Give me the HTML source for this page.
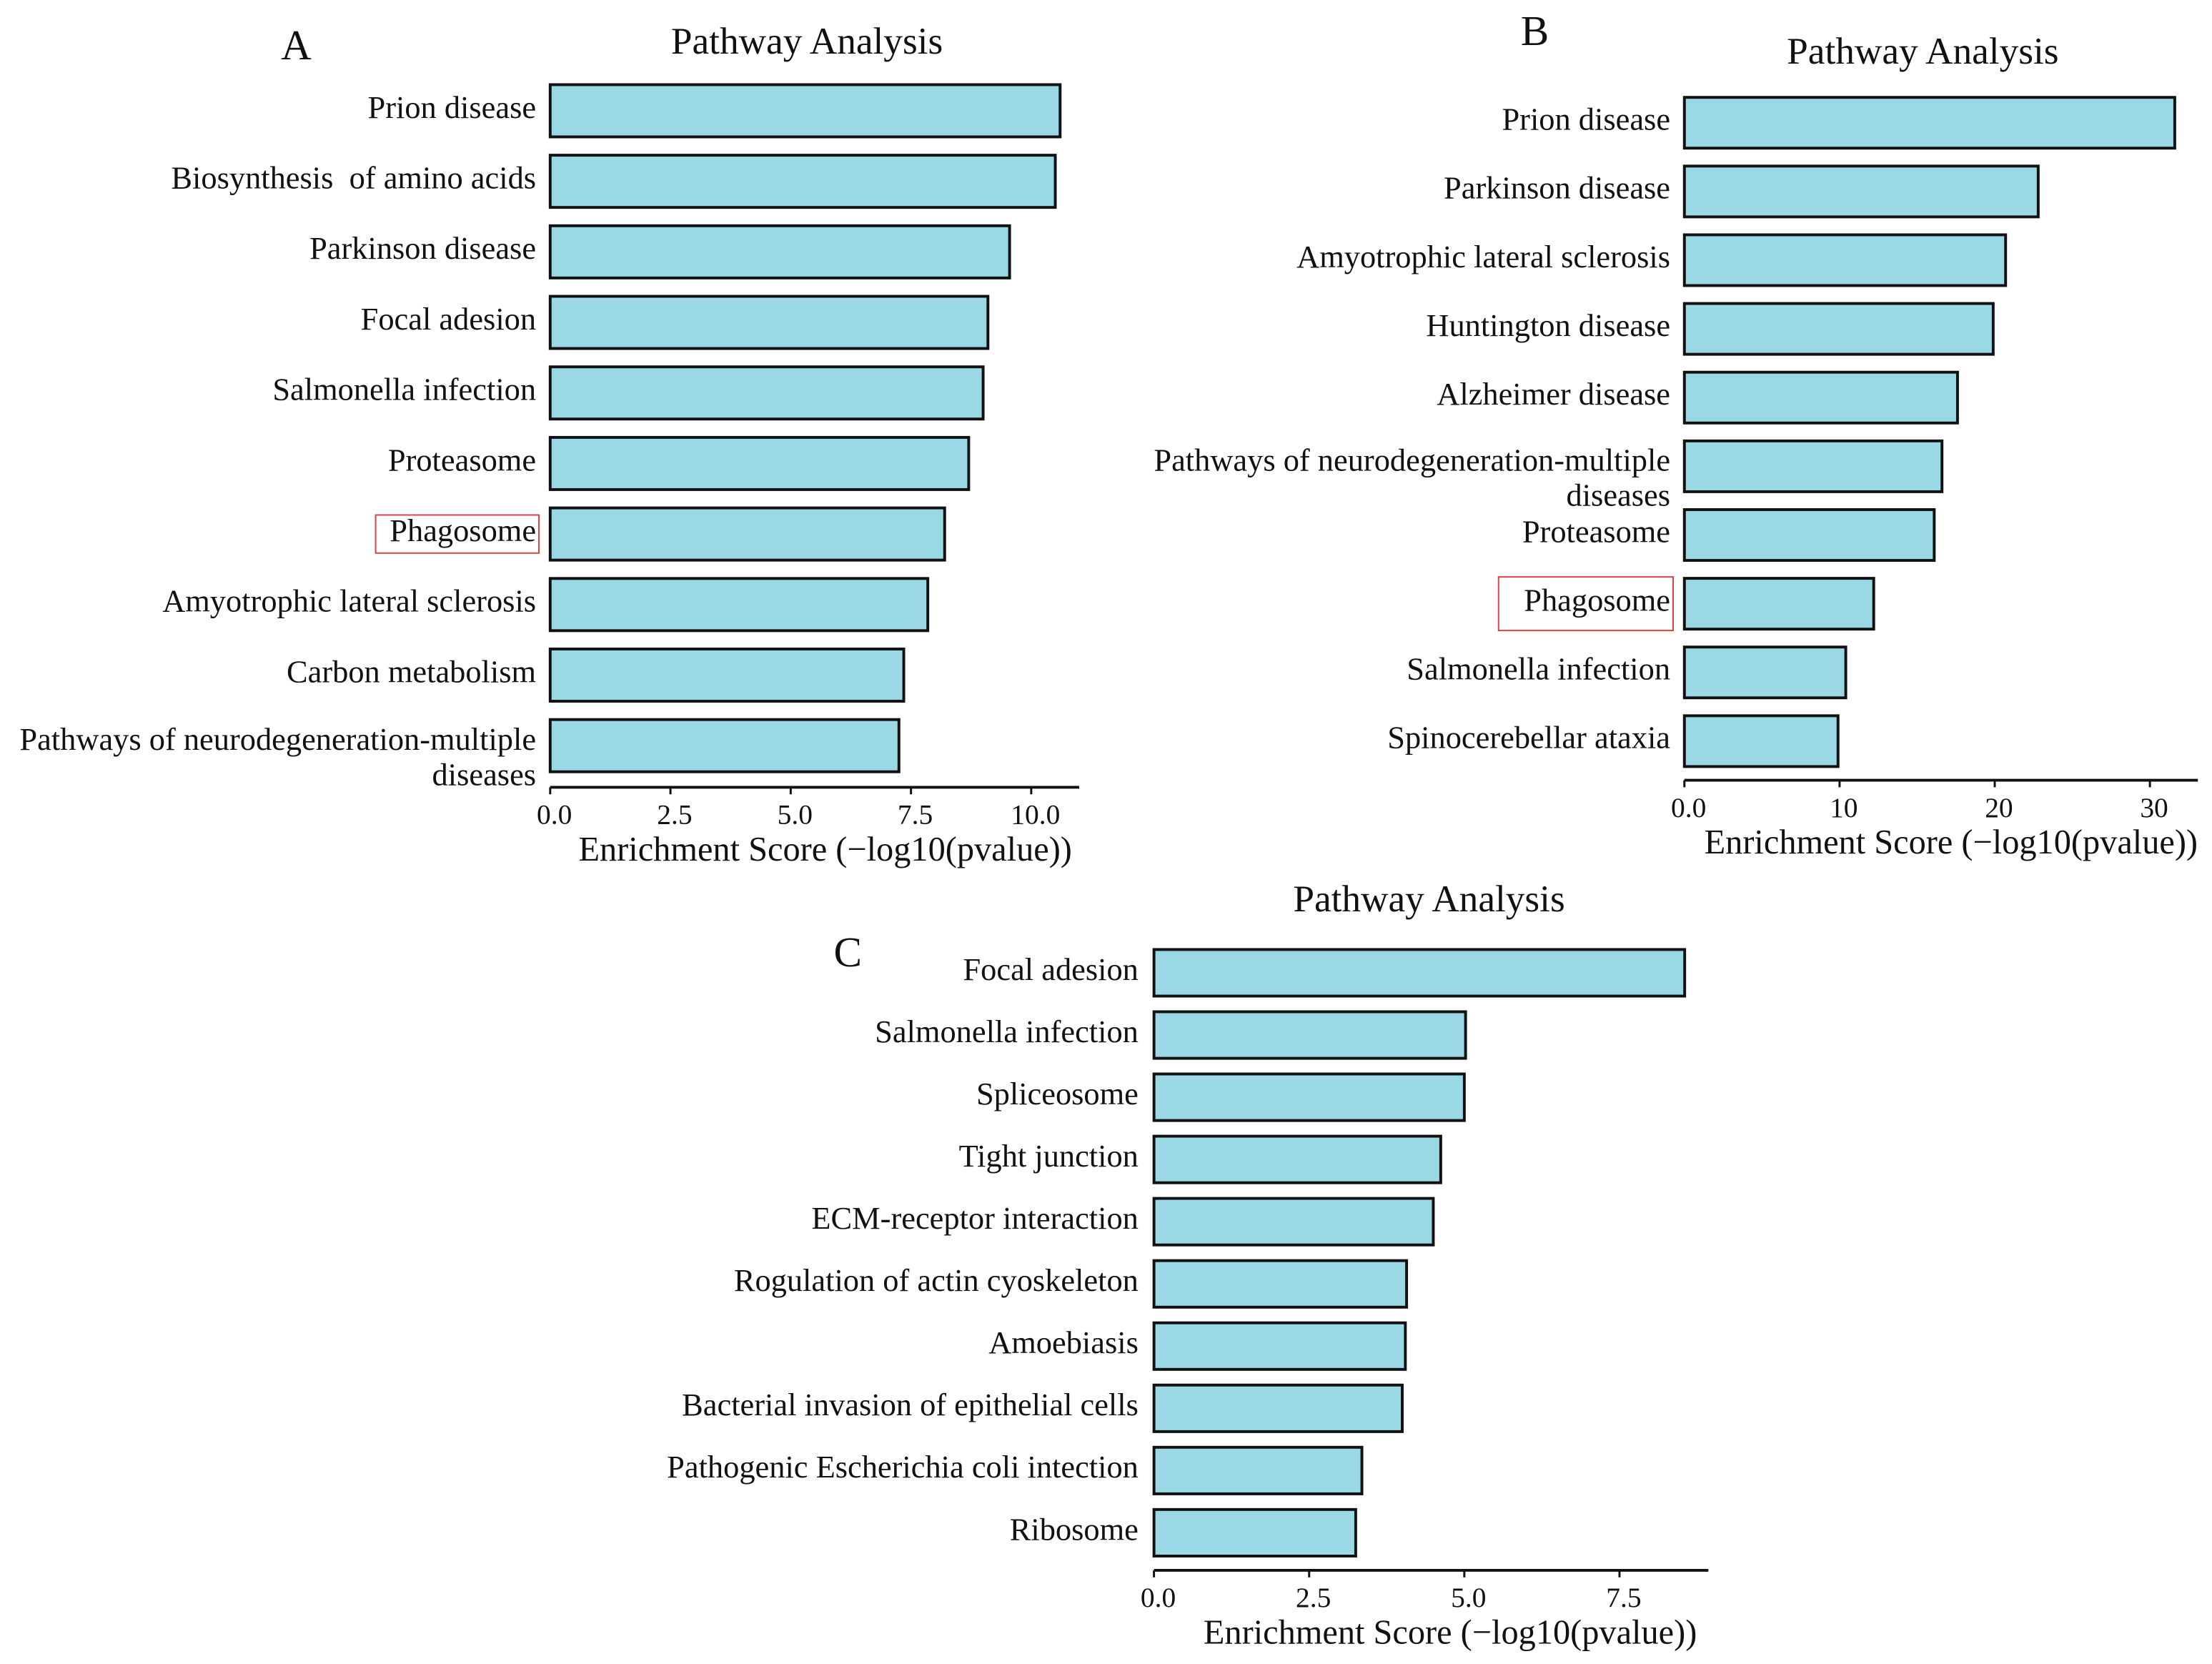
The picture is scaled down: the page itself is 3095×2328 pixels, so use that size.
<!DOCTYPE html>
<html><head><meta charset="utf-8"><style>
html,body{margin:0;padding:0;background:#fff;}
svg{display:block;}
text{font-family:"Liberation Serif",serif;fill:#111;white-space:pre;}
</style></head><body>
<svg id="fig" width="3095" height="2328" viewBox="0 0 1568 1179.4">
<rect width="1568" height="1180" fill="#fff"/>
</svg>
<script>
// Panel A data
const catsA=["Prion disease","Biosynthesis  of amino acids","Parkinson disease","Focal adesion","Salmonella infection","Proteasome","Phagosome","Amyotrophic lateral sclerosis","Carbon metabolism","Pathways of neurodegeneration-multiple|diseases"];
const valsA=[10.6,10.5,9.55,9.1,9.0,8.7,8.2,7.85,7.35,7.25];
const ticksA=[0,2.5,5,7.5,10];
const tickLabelsA=["0.0","2.5","5.0","7.5","10.0"];
// Panel B data
const catsB=["Prion disease","Parkinson disease","Amyotrophic lateral sclerosis","Huntington disease","Alzheimer disease","Pathways of neurodegeneration-multiple|diseases","Proteasome","Phagosome","Salmonella infection","Spinocerebellar ataxia"];
const valsB=[31.6,22.8,20.7,19.9,17.6,16.6,16.1,12.2,10.4,9.9];
const ticksB=[0,10,20,30];
const tickLabelsB=["0.0","10","20","30"];
// Panel C data
const catsC=["Focal adesion","Salmonella infection","Spliceosome","Tight junction","ECM-receptor interaction","Rogulation of actin cyoskeleton","Amoebiasis","Bacterial invasion of epithelial cells","Pathogenic Escherichia coli intection","Ribosome"];
const valsC=[8.55,5.02,5.0,4.62,4.5,4.07,4.05,4.0,3.35,3.25];
const ticksC=[0,2.5,5,7.5];
const tickLabelsC=["0.0","2.5","5.0","7.5"];

const NS="http://www.w3.org/2000/svg";
const svg=document.getElementById('fig');
function mk(tag,attrs,parent,txt){const e=document.createElementNS(NS,tag);for(const k in attrs)e.setAttribute(k,attrs[k]);if(txt!==undefined)e.textContent=txt;(parent||svg).appendChild(e);return e;}

function panel(cfg,cats,vals,ticks,tlabels){
  const g=mk('g',{});
  
  
  const xs=v=>cfg.x0+v*cfg.ppu;
  const t=mk('text',{x:cfg.titleX,y:cfg.titleY,'font-size':27,'text-anchor':'middle'},g,'Pathway Analysis');
  
  
  const l=mk('text',{x:cfg.letterX,y:cfg.letterY,'font-size':30,'text-anchor':'middle'},g,cfg.id.toUpperCase());
  
  
  cats.forEach((c,i)=>{
    const y=cfg.top+i*cfg.step;
    const r=mk('rect',{x:xs(0),y:y,width:xs(vals[i])-xs(0),height:cfg.h,fill:'#9ad8e6',stroke:'#111','stroke-width':2},g);
    
    
    const parts=c.split('|');
    const cy=y+cfg.h/2;
    parts.forEach((p,j)=>{
      const ty=parts.length>1?(cy+3+j*25):cy+5;
      const tx=mk('text',{x:cfg.labelX,y:ty,'font-size':22.5,'text-anchor':'end'},g,p);
      
      
      if(p==='Phagosome'){
        const bb=tx.getBBox();
        const rb=mk('rect',{x:bb.x-cfg.boxPadL,y:cy-cfg.boxH/2,width:bb.width+cfg.boxPadL+2,height:cfg.boxH,fill:'none',stroke:'#e04040','stroke-width':1},g);
        
        
      }
    });
  });
  const ax=mk('line',{x1:xs(0),y1:cfg.axisY,x2:cfg.axisEnd,y2:cfg.axisY,stroke:'#111','stroke-width':2},g);
  
  
  ticks.forEach((v,i)=>{
    const tk=mk('line',{x1:xs(v),y1:cfg.axisY,x2:xs(v),y2:cfg.axisY+5,stroke:'#111','stroke-width':1.5},g);
    
    
    const tl=mk('text',{x:xs(v)+3,y:cfg.axisY+26,'font-size':20,'text-anchor':'middle'},g,tlabels[i]);
    
    
  });
  const xt=mk('text',{x:cfg.xlabX,y:cfg.axisY+52,'font-size':24.5,'text-anchor':'middle'},g,'Enrichment Score (\u2212log10(pvalue))');
  
  
}
panel({id:'a',x0:390,ppu:34.1,top:60,step:50,h:37,labelX:380,axisY:558,axisEnd:765,titleX:572,titleY:38,letterX:210,letterY:42,xlabX:585,boxPadL:10,boxH:27},catsA,valsA,ticksA,tickLabelsA);
panel({id:'b',x0:1194,ppu:11.0,top:69,step:48.7,h:36,labelX:1184,axisY:553,axisEnd:1558,titleX:1363,titleY:45,letterX:1088,letterY:32,xlabX:1383,boxPadL:18,boxH:38},catsB,valsB,ticksB,tickLabelsB);
panel({id:'c',x0:818,ppu:44.0,top:673,step:44.1,h:33,labelX:807,axisY:1113,axisEnd:1211,titleX:1013,titleY:646,letterX:601,letterY:685,xlabX:1028,boxPadL:10,boxH:27},catsC,valsC,ticksC,tickLabelsC);
</script>
</body></html>
